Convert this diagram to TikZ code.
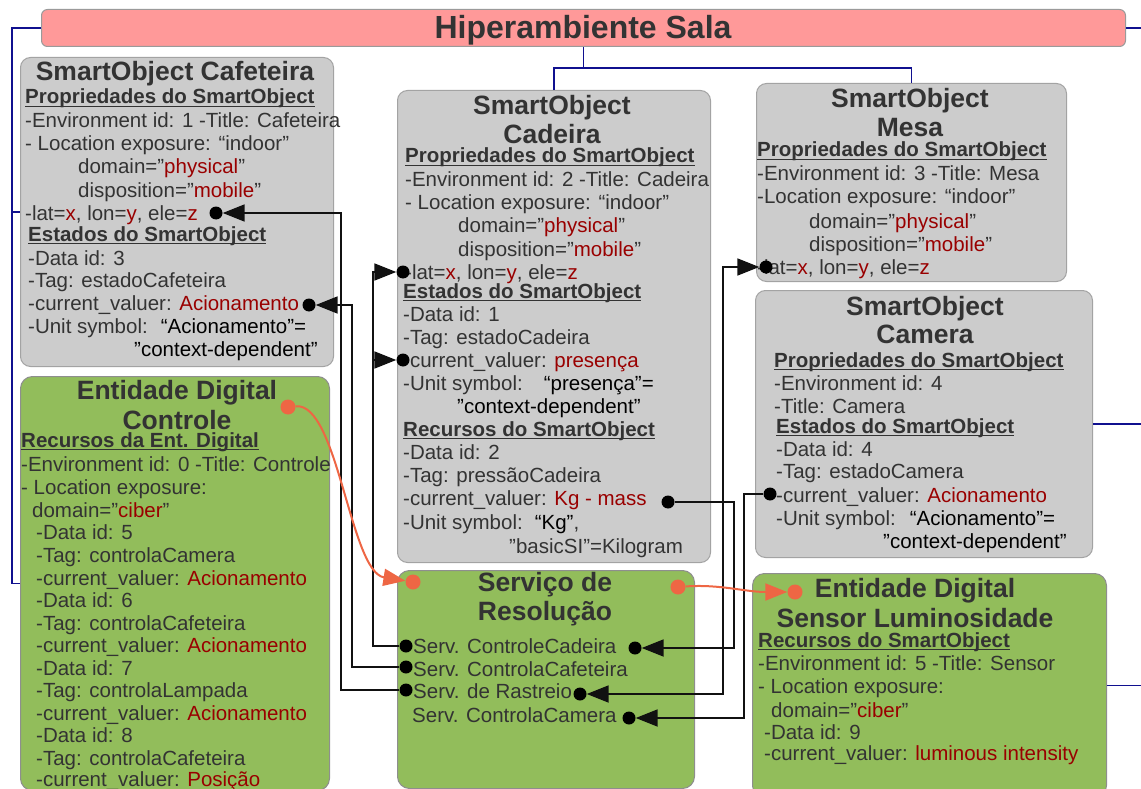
\documentclass[tikz,border=0pt]{standalone}
\usepackage{fontspec}
\setmainfont{Liberation Sans}
\usetikzlibrary{arrows.meta}

\definecolor{sogray}{HTML}{CCCCCC}
\definecolor{soedge}{HTML}{A3A3A3}
\definecolor{edgreen}{HTML}{92BD5B}
\definecolor{gredge}{HTML}{8E8E8E}
\definecolor{hspink}{HTML}{FF9999}
\definecolor{hsedge}{HTML}{9A9A9A}
\definecolor{linkblue}{HTML}{10108F}
\definecolor{flowred}{HTML}{EE6644}
\definecolor{valred}{HTML}{990000}
\definecolor{txtgray}{HTML}{333333}
\definecolor{linek}{HTML}{111111}

% underlined bold section header, rule crossing the descenders
\newsavebox\hdrbox
\newcommand\hdr[1]{\sbox\hdrbox{\bfseries #1}\rlap{\rule[-3.3pt]{\wd\hdrbox}{1.4pt}}\usebox\hdrbox}
\newcommand\rd[1]{\textcolor{valred}{#1}}
\newcommand\bk[1]{\textcolor{black}{#1}}

\begin{document}
\begin{tikzpicture}[x=1pt,y=-1pt,
  sobox/.style={draw=soedge, fill=sogray, line width=1pt, rounded corners=10pt, inner sep=0pt, anchor=north west},
  edbox/.style={draw=gredge, fill=edgreen, line width=1pt, rounded corners=12pt, inner sep=0pt, anchor=north west},
  hsbar/.style={draw=hsedge, fill=hspink, line width=1pt, rounded corners=6pt, inner sep=0pt, anchor=north west},
  tx/.style={anchor=base west, inner sep=0pt, text=txtgray, font=\fontsize{20.5}{22.7}\selectfont},
  ttl/.style={anchor=base, inner sep=0pt, text=txtgray, font=\fontsize{26.5}{29}\selectfont\bfseries},
  bigttl/.style={anchor=base, inner sep=0pt, text=txtgray, font=\fontsize{32}{36}\selectfont\bfseries},
  dotk/.style={circle, fill=black, inner sep=0pt, minimum size=13pt},
  doto/.style={circle, fill=flowred, inner sep=0pt, minimum size=15pt},
  arr/.style={draw=linek, line width=1.8pt, -{Triangle[length=22pt,width=17pt]}},
  arrb/.style={draw=linek, line width=1.8pt, {Triangle[length=22pt,width=17pt]}-{Triangle[length=22pt,width=17pt]}},
  oarr/.style={draw=flowred, line width=2pt, -{Triangle[length=22pt,width=17pt]}},
  bl/.style={draw=linkblue, line width=1.8pt}]

\path[use as bounding box] (0,0) rectangle (1141,789);
\clip (0,0) rectangle (1141,789);

% ---------- containers ----------
\node[hsbar, minimum width=1084pt, minimum height=37pt] (hs) at (41,9) {};
\node[sobox, minimum width=313pt, minimum height=309pt] (caf) at (20,57) {};
\node[edbox, minimum width=309pt, minimum height=414pt] (ctl) at (20,376) {};
\node[sobox, minimum width=313pt, minimum height=472pt] (cad) at (397,90) {};
\node[sobox, minimum width=310pt, minimum height=198pt] (mesa) at (756,83) {};
\node[sobox, minimum width=337pt, minimum height=267pt] (cam) at (755,290) {};
\node[edbox, minimum width=297pt, minimum height=218pt] (srv) at (397,570) {};
\node[edbox, minimum width=354pt, minimum height=224pt] (sen) at (752,573) {};

% ---------- hierarchy links ----------
\coordinate (bL) at (12,0);
\coordinate (bT) at (0,68);
\coordinate (bR) at (1145,0);
\draw[bl] (hs.west) -| (bL |- ctl.west) -- (ctl.west);
\draw[bl] (bL |- caf.west) -- (caf.west);
\draw[bl] (hs.south) -- (hs.south |- bT);
\draw[bl] (cad.north) -- (cad.north |- bT) -- (mesa.north |- bT) -- (mesa.north);
\draw[bl] (hs.east) -- (hs.east -| bR);
\draw[bl] (cam.east) -- (cam.east -| bR);
\draw[bl] (sen.east) -- (sen.east -| bR);

\node[bigttl] (hs-t) at (583,39) {Hiperambiente Sala};

% ---------- SmartObject Cafeteira ----------
\node[ttl] (caf-t) at (175,81) {SmartObject Cafeteira};
\node[tx] (caf-h1) at (25,104) {\hdr{Propriedades do SmartObject}};
\node[tx] (caf-1) at (25,128) {-Environment id: 1 -Title: Cafeteira};
\node[tx] (caf-2) at (25,151) {- Location exposure: “indoor”};
\node[tx] (caf-3) at (78,174) {domain=”\rd{physical}”};
\node[tx] (caf-4) at (78,197) {disposition=”\rd{mobile}”};
\node[tx] (caf-5) at (25,220) {-lat=\rd{x}, lon=\rd{y}, ele=\rd{z}};
\node[tx] (caf-h2) at (28,241) {\hdr{Estados do SmartObject}};
\node[tx] (caf-6) at (28,265) {-Data id: 3};
\node[tx] (caf-7) at (28,287) {-Tag: estadoCafeteira};
\node[tx] (caf-8) at (28,310) {-current\_valuer: \rd{Acionamento}};
\node[tx] (caf-9) at (28,333) {-Unit symbol:\hspace{13pt}\bk{“Acionamento”=}};
\node[tx] (caf-10) at (134,356) {\bk{”context-dependent”}};

% ---------- Entidade Digital Controle ----------
\node[ttl] (ctl-t1) at (177,399) {Entidade Digital};
\node[ttl] (ctl-t2) at (177,429) {Controle};
\node[tx] (ctl-h1) at (21,447) {\hdr{Recursos da Ent. Digital}};
\node[tx] (ctl-1) at (21,471) {-Environment id: 0 -Title: Controle};
\node[tx] (ctl-2) at (21,494) {- Location exposure:};
\node[tx] (ctl-3) at (32,517) {domain=”\rd{ciber}”};
\node[tx] (ctl-4) at (36,539) {-Data id: 5};
\node[tx] (ctl-5) at (36,562) {-Tag: controlaCamera};
\node[tx] (ctl-6) at (36,585) {-current\_valuer: \rd{Acionamento}};
\node[tx] (ctl-7) at (36,607) {-Data id: 6};
\node[tx] (ctl-8) at (36,630) {-Tag: controlaCafeteira};
\node[tx] (ctl-9) at (36,652) {-current\_valuer: \rd{Acionamento}};
\node[tx] (ctl-10) at (36,675) {-Data id: 7};
\node[tx] (ctl-11) at (36,697) {-Tag: controlaLampada};
\node[tx] (ctl-12) at (36,720) {-current\_valuer: \rd{Acionamento}};
\node[tx] (ctl-13) at (36,742) {-Data id: 8};
\node[tx] (ctl-14) at (36,765) {-Tag: controlaCafeteira};
\node[tx] (ctl-15) at (36,786) {-current\_valuer: \rd{Posição}};

% ---------- SmartObject Cadeira ----------
\node[ttl] (cad-t1) at (552,115) {SmartObject};
\node[ttl] (cad-t2) at (552,144) {Cadeira};
\node[tx] (cad-h1) at (405,163) {\hdr{Propriedades do SmartObject}};
\node[tx] (cad-1) at (405,186) {-Environment id: 2 -Title: Cadeira};
\node[tx] (cad-2) at (405,209) {- Location exposure: “indoor”};
\node[tx] (cad-3) at (458,233) {domain=”\rd{physical}”};
\node[tx] (cad-4) at (458,256) {disposition=”\rd{mobile}”};
\node[tx] (cad-5) at (405,279) {-lat=\rd{x}, lon=\rd{y}, ele=\rd{z}};
\node[tx] (cad-h2) at (403,298) {\hdr{Estados do SmartObject}};
\node[tx] (cad-6) at (403,321) {-Data id: 1};
\node[tx] (cad-7) at (403,344) {-Tag: estadoCadeira};
\node[tx] (cad-8) at (403,367) {-current\_valuer: \rd{presença}};
\node[tx] (cad-9) at (403,390) {-Unit symbol:\hspace{21pt}\bk{“presença”=}};
\node[tx] (cad-10) at (457,413) {\bk{”context-dependent”}};
\node[tx] (cad-h3) at (403,436) {\hdr{Recursos do SmartObject}};
\node[tx] (cad-11) at (403,459) {-Data id: 2};
\node[tx] (cad-12) at (403,482) {-Tag: pressãoCadeira};
\node[tx] (cad-13) at (403,505) {-current\_valuer: \rd{Kg - mass}};
\node[tx] (cad-14) at (403,529) {-Unit symbol:\hspace{12pt}\bk{“Kg”},};
\node[tx] (cad-15) at (509,553) {”basicSI”=Kilogram};

% ---------- SmartObject Mesa ----------
\node[ttl] (mesa-t1) at (910,108) {SmartObject};
\node[ttl] (mesa-t2) at (910,137) {Mesa};
\node[tx] (mesa-h1) at (757,157) {\hdr{Propriedades do SmartObject}};
\node[tx] (mesa-1) at (757,181) {-Environment id: 3 -Title: Mesa};
\node[tx] (mesa-2) at (757,204) {-Location exposure: “indoor”};
\node[tx] (mesa-3) at (809,228) {domain=”\rd{physical}”};
\node[tx] (mesa-4) at (809,251) {disposition=”\rd{mobile}”};
\node[tx] (mesa-5) at (757,274) {-lat=\rd{x}, lon=\rd{y}, ele=\rd{z}};

% ---------- SmartObject Camera ----------
\node[ttl] (cam-t1) at (925,315) {SmartObject};
\node[ttl] (cam-t2) at (925,343) {Camera};
\node[tx] (cam-h1) at (774,367) {\hdr{Propriedades do SmartObject}};
\node[tx] (cam-1) at (774,390) {-Environment id: 4};
\node[tx] (cam-2) at (774,413) {-Title: Camera};
\node[tx] (cam-h2) at (776,433) {\hdr{Estados do SmartObject}};
\node[tx] (cam-3) at (776,456) {-Data id: 4};
\node[tx] (cam-4) at (776,478) {-Tag: estadoCamera};
\node[tx] (cam-5) at (776,502) {-current\_valuer: \rd{Acionamento}};
\node[tx] (cam-6) at (776,525) {-Unit symbol:\hspace{14pt}\bk{“Acionamento”=}};
\node[tx] (cam-7) at (883,548) {\bk{”context-dependent”}};

% ---------- Servico de Resolucao ----------
\node[ttl] (srv-t1) at (545,591) {Serviço de};
\node[ttl] (srv-t2) at (545,620) {Resolução};
\node[tx] (srv-1) at (413,653) {Serv. ControleCadeira};
\node[tx] (srv-2) at (413,676) {Serv. ControlaCafeteira};
\node[tx] (srv-3) at (413,698) {Serv. de Rastreio};
\node[tx] (srv-4) at (412,722) {Serv. ControlaCamera};

% ---------- Entidade Digital Sensor Luminosidade ----------
\node[ttl] (sen-t1) at (915,597) {Entidade Digital};
\node[ttl] (sen-t2) at (915,627) {Sensor Luminosidade};
\node[tx] (sen-h1) at (758,647) {\hdr{Recursos do SmartObject}};
\node[tx] (sen-1) at (758,670) {-Environment id: 5 -Title: Sensor};
\node[tx] (sen-2) at (758,693) {- Location exposure:};
\node[tx] (sen-3) at (771,717) {domain=”\rd{ciber}”};
\node[tx] (sen-4) at (764,739) {-Data id: 9};
\node[tx] (sen-5) at (764,760) {-current\_valuer: \rd{luminous intensity}};

% ---------- connection points ----------
\node[dotk] (cafLat) at (216,213) {};
\node[dotk] (cafCur) at (309,305) {};
\node[dotk] (cadLat) at (403,272) {};
\node[dotk] (cadCur) at (403,360) {};
\node[dotk] (cadKg) at (668,502) {};
\node[dotk] (mesaLat) at (766,267) {};
\node[dotk] (camCur) at (770,494) {};
\node[dotk] (srvL1) at (406,646) {};
\node[dotk] (srvL2) at (406,667) {};
\node[dotk] (srvL3) at (406,690) {};
\node[dotk] (srvR1) at (635,648) {};
\node[dotk] (srvR3) at (580,694) {};
\node[dotk] (srvR4) at (629,718) {};
\node[doto] (ctlO) at (288,407) {};
\node[doto] (srvOL) at (413,582) {};
\node[doto] (srvOR) at (678,587) {};
\node[doto] (senO) at (795,592) {};

% ---------- service bindings ----------
\coordinate (v341) at (341,0);
\coordinate (v352) at (352,0);
\coordinate (v373) at (373,0);
\coordinate (v723) at (723,0);
\coordinate (v734) at (734,0);
\coordinate (v744) at (744,0);
\draw[arr] (srvL3.west) -- (srvL3.west -| v341) |- (cafLat.east);
\draw[arr] (srvL2.west) -- (srvL2.west -| v352) |- (cafCur.east);
\draw[arr] (srvL1.west) -- (srvL1.west -| v373) |- (cadLat.west);
\draw[arr] (v373 |- cadCur.west) -- (cadCur.west);
\draw[arr] (cadKg.east) -- (cadKg.east -| v734) |- (srvR1.east);
\draw[arrb] (mesaLat.west) -- (mesaLat.west -| v723) |- (srvR3.east);
\draw[arr] (camCur.west) -- (camCur.west -| v744) |- (srvR4.east);

% ---------- resolution flow ----------
\draw[oarr] (ctlO) .. controls (338,402) and (350,572) .. (srvOL);
\draw[oarr] (srvOR) .. controls (720,584) and (745,592) .. (senO);

\end{tikzpicture}
\end{document}
